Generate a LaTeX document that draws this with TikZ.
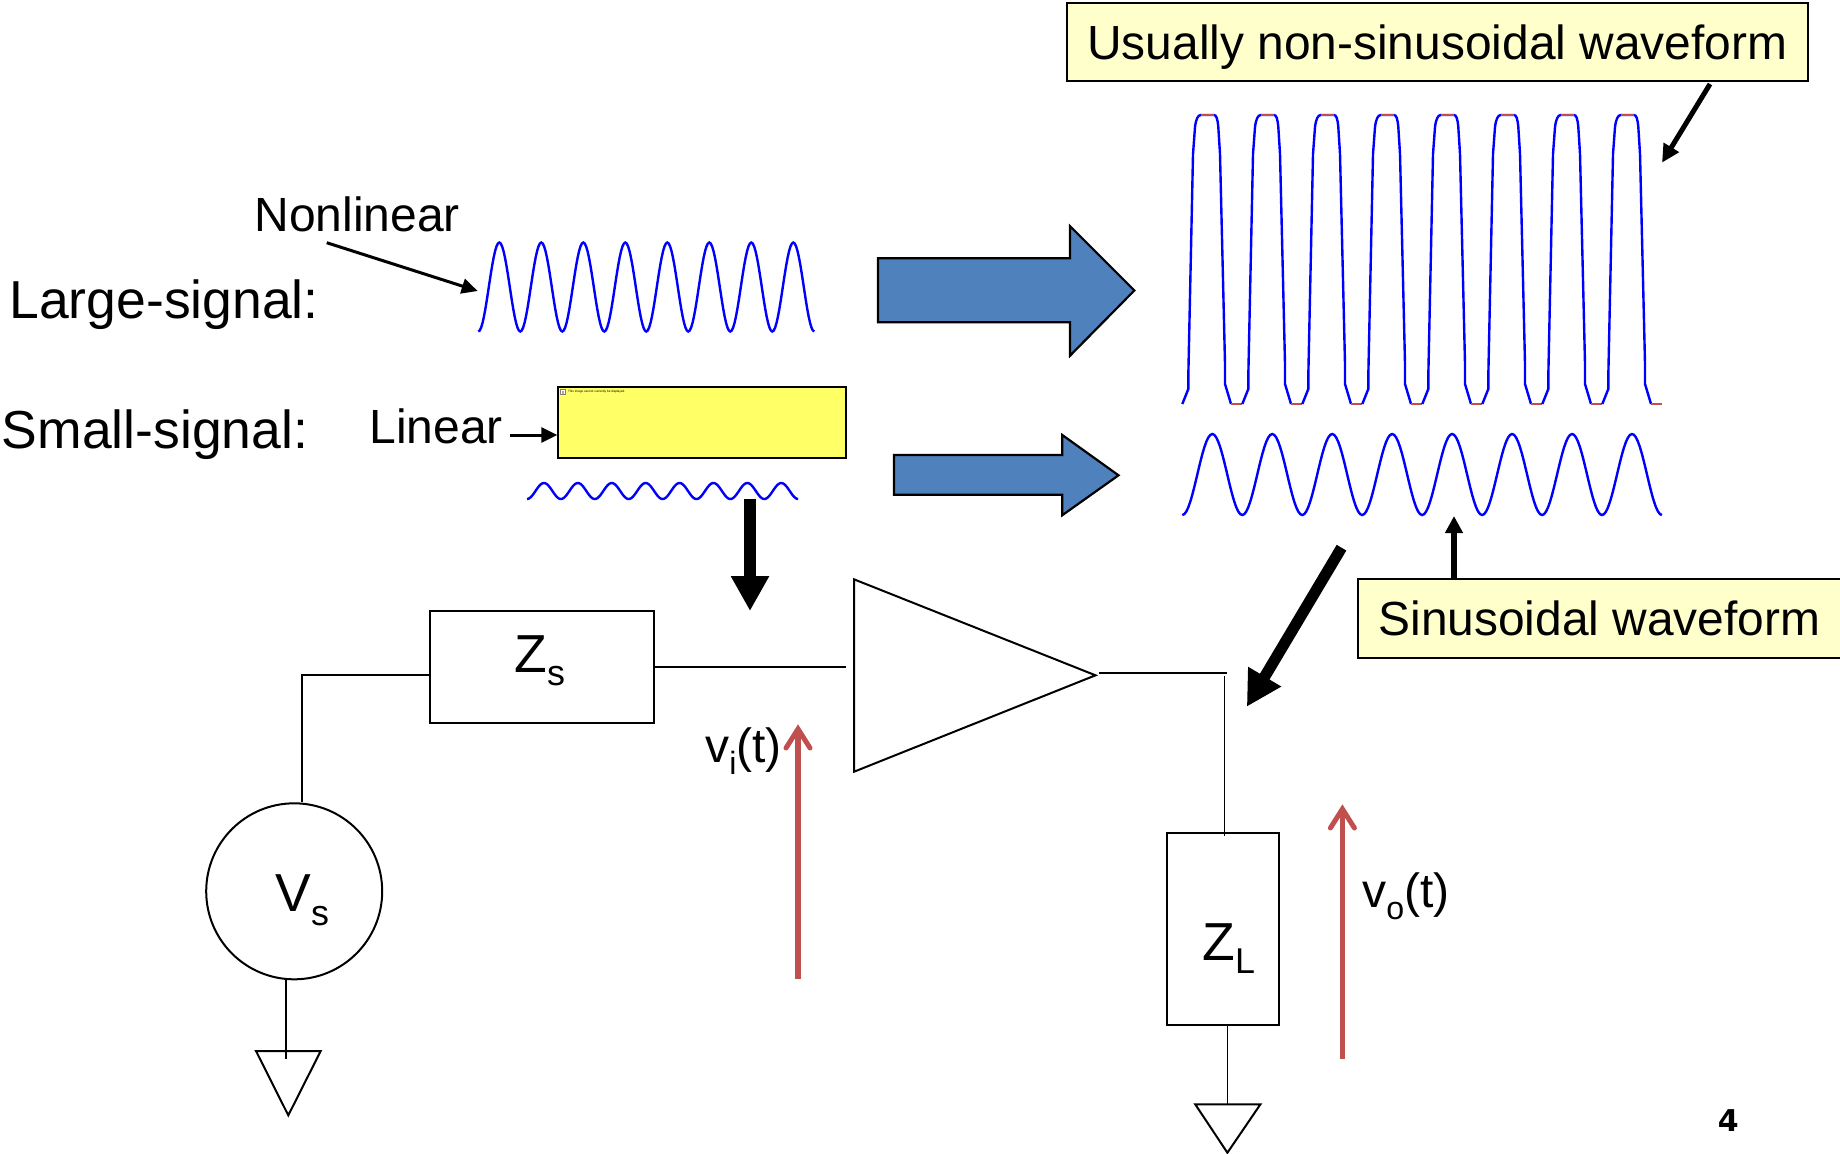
\documentclass[tikz,border=0pt]{standalone}
\usepackage{fontspec}
\setmainfont{Liberation Sans}
\newfontfamily\pagefont{DejaVu Sans}
\usetikzlibrary{arrows.meta, shadows}
\newcommand{\lowtext}[1]{\raisebox{-.25em}{\scalebox{.67}{#1}}}
\definecolor{blockblue}{HTML}{4F81BD}
\definecolor{voltred}{HTML}{C0504D}
\definecolor{notefill}{HTML}{FFFFCC}
\definecolor{missingfill}{HTML}{FFFF66}
\tikzset{
    textlbl/.style={anchor=base west, inner sep=0pt, font=\fontsize{24pt}{28pt}\selectfont},
    biglbl/.style={textlbl, font=\fontsize{26.75pt}{31pt}\selectfont},
    note/.style={draw, line width=1pt, fill=notefill, inner sep=0pt, text height=17pt, text depth=0pt,
        font=\fontsize{23.95pt}{28pt}\selectfont, drop shadow={shadow xshift=.5pt, shadow yshift=-.5pt, opacity=.5, fill=black}},
    part/.style={draw, line width=1pt, inner sep=0pt},
    wire/.style={line width=.9pt},
    wave/.style={blue, line width=1.2pt},
    clip part/.style={voltred, line width=1.2pt},
    bigarrow/.style={draw, line width=1.1pt, fill=blockblue, line join=miter},
    pointer/.style={-{Triangle[length=8pt, width=7.5pt]}, line width=1.5pt},
    heavy/.style={-{Triangle[length=17.5pt, width=18pt]}, line width=5.6pt},
    voltage/.style={-{Straight Barb[length=9.5pt, width=12pt, line width=2.5pt, line cap=round, line join=miter]}, voltred, line width=2.7pt}
}
\begin{document}
\begin{tikzpicture}[x=0.5pt, y=-0.5pt, >=Stealth]

    \useasboundingbox (0,-1) rectangle (1840,1152);

    % Text on the left
    \node (nonlinear) [textlbl] at (254,230.7) {Nonlinear};
    \node (large) [biglbl] at (9,317.7) {Large-signal:};
    \node (small) [biglbl] at (1.5,447) {Small-signal:};
    \node (linear) [textlbl] at (369,442.3) {Linear};

    % Input waveforms
    \draw[wave] plot[domain=0:8, samples=241] ({478.3+42*\x}, {286+44.5*cos(360*\x)});
    \draw[wave] plot[domain=0:8, samples=241] ({527+33.9*\x}, {490+8*cos(360*\x)});

    % Box of the picture that did not load
    \node (missing) [part, fill=missingfill, minimum width=144pt, minimum height=35.7pt,
        drop shadow={shadow xshift=.5pt, shadow yshift=-.5pt, opacity=.5, fill=black}] at (702.3,421.5) {};
    \draw[gray, line width=.25pt, fill=white] (560.5,388.5) rectangle (565,393.5);
    \fill[voltred!60] (561.5,390) rectangle (564,392.5);
    \node (missingtext) [textlbl, font=\fontsize{1.55pt}{2pt}\selectfont] at (567.7,391.7) {This image cannot currently be displayed.};

    % Pointers to the input waveforms
    \coordinate (nonstart) at (326.7,241.7);
    \coordinate (nontip) at (477.7,290);
    \draw[pointer] (nonstart) -- (nontip);
    \coordinate (linstart) at (510,434);
    \draw[pointer] (linstart) -- (missing.west |- linstart);

    % Blue arrows
    \path[bigarrow] (878,257.2) -- (1070,257.2) -- (1070,225.2) -- (1134.3,289.5) -- (1070,354.7) -- (1070,321.2) -- (878,321.2) -- cycle;
    \path[bigarrow] (894,454) -- (1062.3,454) -- (1062.3,434) -- (1118.5,474.3) -- (1062.3,514.2) -- (1062.3,493.7) -- (894,493.7) -- cycle;

    % Output waveform, eight periods with clipped tops
    \foreach \k in {0,...,7} {
        \begin{scope}[shift={({1207+60*\k},0)}]
            \draw[wave] (-24.7,403) -- (-18.7,388) -- (-18.7,375) -- (-14,153) -- (-12,126)
                .. controls (-11,118) and (-9,114) .. (-6.3,114) -- (7,114)
                .. controls (9.5,114) and (10.5,118) .. (11.3,126)
                -- (13,153) -- (18,363) -- (18,383) -- (24,403);
            \draw[clip part] (-6.3,114) -- (7,114);
            \draw[clip part] (24,403) -- (35.3,403);
        \end{scope}
    }

    % Sinusoidal output
    \draw[wave] plot[domain=0:8, samples=241] ({1182.3+59.96*\x}, {473.5+40.5*cos(360*\x)});

    % Notes and their pointers
    \node (nonsine) [note, minimum width=370.7pt, minimum height=39.3pt] at (1437.3,41) {Usually non-sinusoidal waveform};
    \node (sine) [note, minimum width=241.7pt, minimum height=39.5pt] at (1599.5,617.8) {Sinusoidal waveform};
    \coordinate (nonsinestart) at (1710,83);
    \coordinate (nonsinetip) at (1662,161.7);
    \draw[pointer, line width=2.5pt, -{Triangle[length=9pt, width=8.5pt]}] (nonsinestart) -- (nonsinetip);
    \coordinate (sinetip) at (1454,515);
    \draw[pointer, line width=2.75pt, -{Triangle[length=8.5pt, width=8.5pt]}] (sinetip |- sine.north) -- (sinetip);

    % Source side of the circuit
    \node (zsbox) [part, minimum width=112.15pt, minimum height=56.15pt] at (542.2,666.2) {};
    \node (zslbl) [biglbl] at (514,671) {Z\lowtext{s}};
    \node (vsrc) [part, circle, minimum size=88pt] at (294.2,890.3) {};
    \node (vslbl) [biglbl] at (275,910.7) {V\lowtext{s}};
    \coordinate (corner) at (302.3,674);
    \draw[wire] (zsbox.west |- corner) -- (corner) -- (corner |- vsrc.north);
    \coordinate (gndtop) at (286,1057.7);
    \draw[wire] (gndtop |- vsrc.south) -- (gndtop);
    \draw[part] (256,1050) -- (320.7,1050) -- (288.3,1114.3) -- cycle;

    % Amplifier
    \draw[part] (854,578.3) -- (1095.5,674.3) -- (854,770.7) -- cycle;
    \coordinate (ampin) at (846,666.3);
    \draw[wire] (zsbox.east |- ampin) -- (ampin);
    \coordinate (ampout) at (1099.3,672.3);
    \coordinate (outend) at (1227,672.3);
    \draw[wire] (ampout) -- (outend);

    % Load side of the circuit
    \node (zlbox) [part, minimum width=56.4pt, minimum height=96.15pt] at (1223,928.2) {};
    \node (zllbl) [biglbl] at (1202,959.3) {Z\lowtext{L}};
    \coordinate (loadtop) at (1224.5,675);
    \coordinate (loadend) at (1224.5,835);
    \draw[wire] (loadtop) -- (loadend);
    \coordinate (gndload) at (1227.4,1103.3);
    \draw[wire] (gndload |- zlbox.south) -- (gndload);
    \draw[part] (1195.2,1103.3) -- (1260.4,1103.3) -- (1227.4,1151.7) -- cycle;

    % Heavy arrows from the waveforms to the circuit
    \coordinate (instart) at (750,498);
    \coordinate (intip) at (750,610);
    \draw[heavy] (instart) -- (intip);
    \coordinate (outstart) at (1341.5,546.7);
    \coordinate (outtip) at (1246.8,705.7);
    \draw[heavy] (outstart) -- (outtip);

    % Voltages
    \coordinate (vibottom) at (798,977.7);
    \coordinate (vitop) at (798,723.3);
    \draw[voltage] (vibottom) -- (vitop);
    \node (vilbl) [textlbl] at (705,761.7) {v\lowtext{i}(t)};
    \coordinate (vobottom) at (1342.4,1057.7);
    \coordinate (votop) at (1342.4,803.3);
    \draw[voltage] (vobottom) -- (votop);
    \node (volbl) [textlbl] at (1362,906.7) {v\lowtext{o}(t)};

    % Page number
    \node (pagenum) [textlbl, font=\pagefont\bfseries\fontsize{15pt}{18pt}\selectfont] at (1717.5,1130) {4};

\end{tikzpicture}
\end{document}
